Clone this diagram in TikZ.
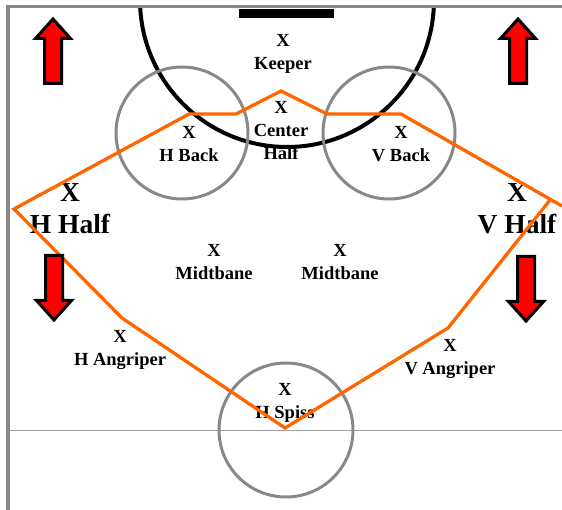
\documentclass[tikz,border=0pt]{standalone}
\usepackage{fontspec}
\setmainfont{Liberation Serif}
\usepackage{xcolor}
\usepackage{tikz}
\definecolor{fieldorange}{HTML}{FF6600}
\definecolor{fieldgray}{HTML}{888888}

\begin{document}
\begin{tikzpicture}[x=1pt,y=-1pt,
		player/.style={font=\bfseries\fontsize{18.5}{23}\selectfont,align=center,inner sep=0pt},
		wing/.style={font=\bfseries\fontsize{27.5}{32}\selectfont,align=center,inner sep=0pt},
		zone/.style={draw=fieldgray,line width=3pt},
		cover/.style={draw=fieldorange,line width=3.3pt,line join=miter},
		runarrow/.style={fill=red,draw=black,line width=3pt,line join=miter}]
			\useasboundingbox (0,0) rectangle (562,510);
			\draw[fieldgray!80,line width=1.5pt] (10,430.5) -- (562,430.5);
			\fill (239,9) rectangle (334,18);
			\node[player] (kp) at (283,54.2) {X\\Keeper};
			\node[player] (ch) at (281,131) {X\\Center\\Half};
			\node[player] (hb) at (189,144.5) {X\\H Back};
			\node[player] (vb) at (401,144.5) {X\\V Back};
			\node[wing] (hh) at (70,209) {X\\H Half};
			\node[wing] (vh) at (517,209) {X\\V Half};
			\node[player] (m1) at (214,262.5) {X\\Midtbane};
			\node[player] (m2) at (340,262.5) {X\\Midtbane};
			\node[player] (ha) at (120,349.5) {X\\H Angriper};
			\node[player] (va) at (450,358.5) {X\\V Angriper};
			\node[player] (hs) at (285,402.5) {X\\H Spiss};
			\coordinate (goal) at (287,0);
			\coordinate (cl) at (182,133);
			\coordinate (cr) at (389,133);
			\coordinate (cm) at (286,430);
			\draw[line width=4pt] (goal) ++(2.7:147) arc[start angle=2.7,end angle=177.3,radius=147];
			\draw[zone] (cl) circle[radius=66];
			\draw[zone] (cr) circle[radius=66];
			\draw[zone] (cm) circle[radius=67];
			\coordinate (re) at (562,206);
			\coordinate (rb) at (401,114);
			\coordinate (rb2) at (327,114);
			\coordinate (top) at (281,91);
			\coordinate (lb2) at (236,114);
			\coordinate (lb) at (189,114);
			\coordinate (lw) at (14,209);
			\coordinate (la) at (122,318);
			\coordinate (sp) at (285,428);
			\coordinate (ra) at (448,328);
			\coordinate (rw) at (550,200);
			\draw[cover] (re) -- (rb) -- (rb2) -- (top) -- (lb2) -- (lb) -- (lw) -- (la) -- (sp) -- (ra) -- (rw);
			\foreach \ax/\ay/\s in {53/83.5/1,518/83.5/1,54/255.5/-1,526/256.5/-1}
				\draw[runarrow,shift={(\ax,\ay)},yscale=\s] (-8.5,0) -- (-8.5,-45) -- (-17.5,-45) -- (0,-64.5) -- (17.5,-45) -- (8.5,-45) -- (8.5,0) -- cycle;
			\draw[fieldgray,line width=3.5pt] (8,510) -- (8,6.5) -- (562,6.5);
		\end{tikzpicture}
\end{document}
